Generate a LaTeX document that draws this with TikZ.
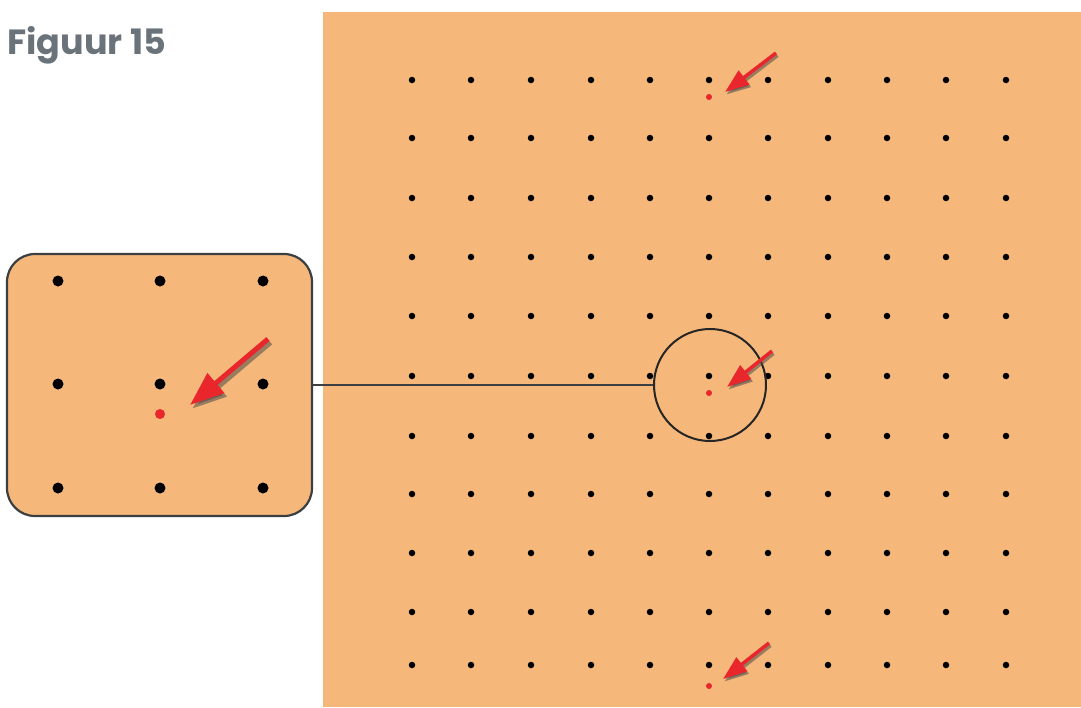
\documentclass[tikz,border=0pt]{standalone}
\usepackage{fontspec}
\usepackage{xcolor}
\usetikzlibrary{positioning,arrows.meta}
\newfontfamily\titlefont{Poppins}
\definecolor{board}{HTML}{F5B87A}
\definecolor{titlegray}{HTML}{6A737A}
\definecolor{pinred}{HTML}{E8262B}
\definecolor{rimgray}{HTML}{3C3F42}

\begin{document}
\begin{tikzpicture}[x=1pt,y=-1pt,
        pin/.style={circle, fill=black, inner sep=0pt, minimum size=6.5pt},
        bigpin/.style={circle, fill=black, inner sep=0pt, minimum size=11pt},
        redpin/.style={circle, fill=pinred, inner sep=0pt, minimum size=6pt},
        bigredpin/.style={circle, fill=pinred, inner sep=0pt, minimum size=10pt},
        pointer/.style={pinred, line width=3.5pt, -{Triangle[length=24pt,width=17pt]}},
        bigpointer/.style={pinred, line width=5pt, -{Triangle[length=34pt,width=25pt]}},
        shade/.style={black!70, opacity=0.55}
    ]
        \useasboundingbox (0,0) rectangle (1081,707);

        % title
        \node[anchor=base west, inner sep=0pt, font=\titlefont\bfseries\fontsize{35}{40}\selectfont,
              text=titlegray] (title) at (7,54) {Figuur 15};

        % board with pins
        \fill[board] (323,12) rectangle (1081,707);
        \foreach \x in {412,471,531,591,650,709,768,828,887,946,1006}
            \foreach \y in {80,138,198,257,316,376,436,494,553,612,665}
                \node[pin] at (\x,\y) {};

        \node[redpin] (redtop) at (709,97) {};
        \node[redpin] (redmid) at (709,393) {};
        \node[redpin] (redbot) at (709,686) {};

        % magnifier
        \node[circle, draw=black!85, line width=2pt, minimum size=112pt, inner sep=0pt] (lens) at (710,385) {};

        \node[draw=rimgray, line width=2.2pt, fill=board, rounded corners=28pt,
              minimum width=305pt, minimum height=262pt, inner sep=0pt] (inset) at (159.5,385) {};
        \foreach \x in {58,160,263}
            \foreach \y in {281,384,488}
                \node[bigpin] at (\x,\y) {};
        \node[bigredpin] (redzoom) at (160,414) {};

        \draw[rimgray, line width=1.6pt] (inset.east) -- (lens.west);

        % arrows
        \coordinate (tailtop) at (776,53);  \coordinate (tiptop) at (725,92);
        \coordinate (tailmid) at (772,351); \coordinate (tipmid) at (727,387);
        \coordinate (tailbot) at (769,643); \coordinate (tipbot) at (723,679);
        \coordinate (tailzoom) at (268,339); \coordinate (tipzoom) at (190,405);

        \foreach \a in {top,mid,bot}{
            \draw[pointer, shade] ([shift={(1.5,2.5)}]tail\a) -- ([shift={(1.5,2.5)}]tip\a);
            \draw[pointer] (tail\a) -- (tip\a);
        }
        \draw[bigpointer, shade] ([shift={(2.5,3.5)}]tailzoom) -- ([shift={(2.5,3.5)}]tipzoom);
        \draw[bigpointer] (tailzoom) -- (tipzoom);
    \end{tikzpicture}
\end{document}
